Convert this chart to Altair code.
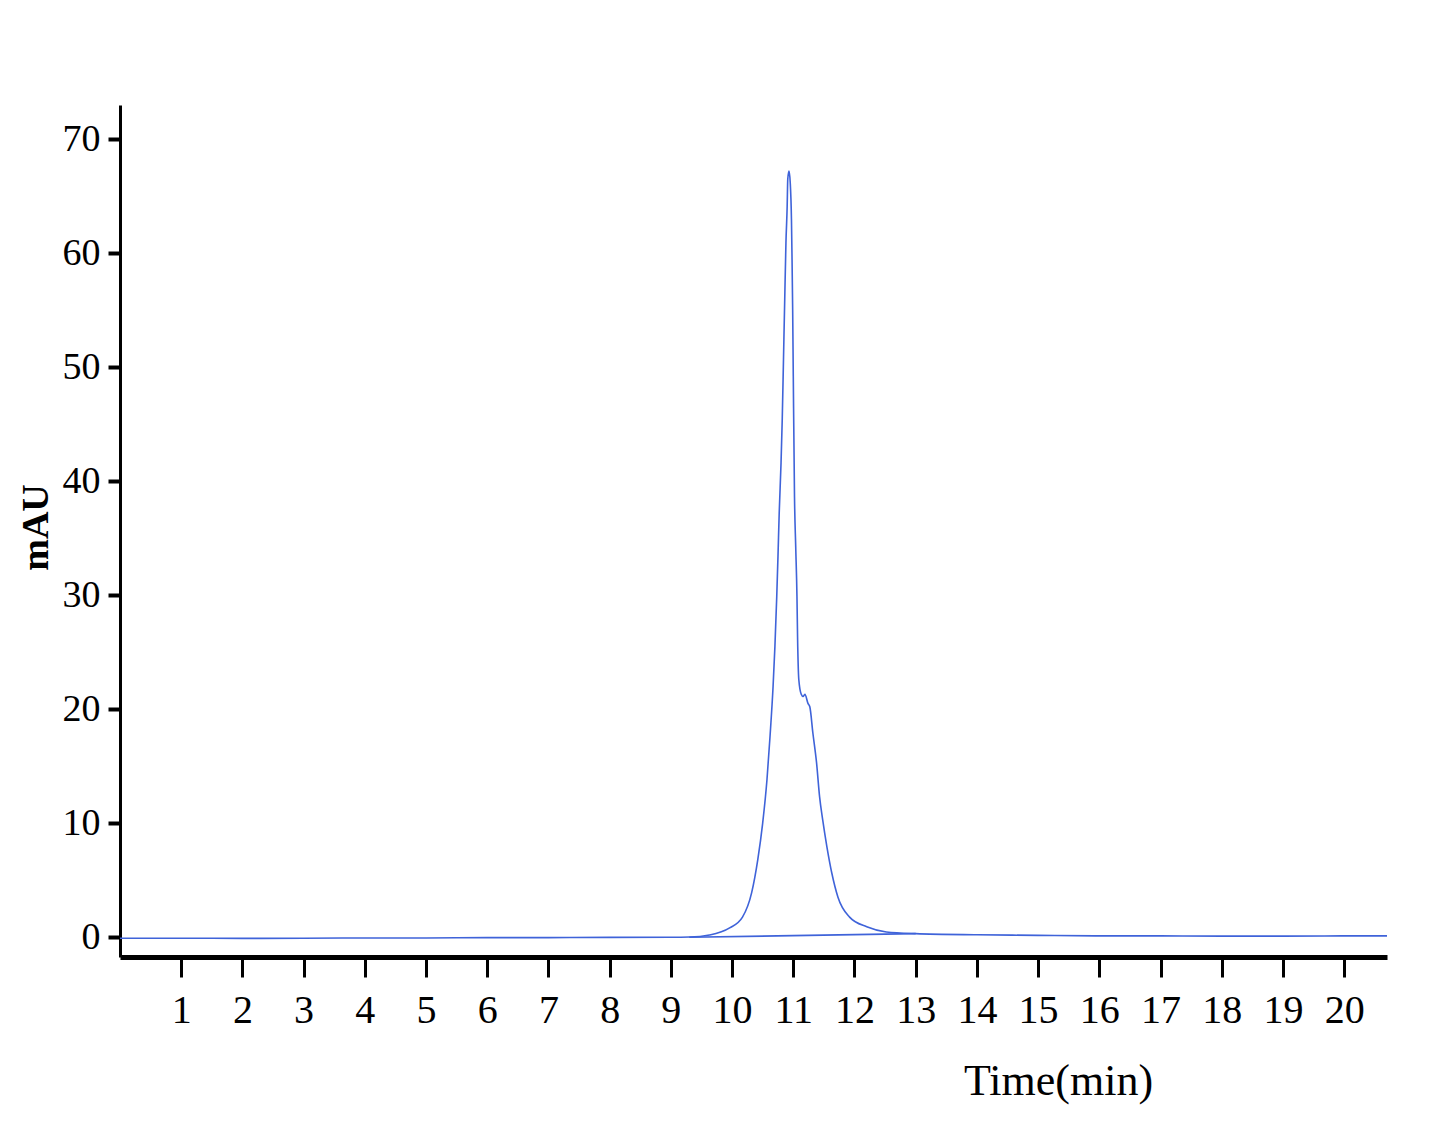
import altair as alt
import pandas as pd

# Chromatogram trace (time in min, absorbance in mAU)
time = [0.0, 1.0, 2.0, 3.0, 4.0, 5.0, 6.0, 7.0, 8.0, 9.0, 9.3, 9.63, 9.96, 10.17,
        10.32, 10.42, 10.50, 10.57, 10.62, 10.67, 10.70, 10.73, 10.75, 10.77,
        10.80, 10.82, 10.84, 10.86, 10.88, 10.90, 10.91, 10.93, 10.95, 10.97,
        10.98, 10.99, 11.00, 11.02, 11.04, 11.06, 11.07, 11.09, 11.13, 11.16,
        11.19, 11.24, 11.27, 11.32, 11.38, 11.43, 11.48, 11.55, 11.63, 11.73,
        11.92, 12.20, 12.52, 13.0, 14.0, 15.0, 16.0, 17.0, 18.0, 19.0, 20.0, 20.7]
signal = [-0.1, -0.1, -0.12, -0.1, -0.08, -0.08, -0.05, -0.05, -0.03, -0.02, 0.0,
          0.18, 0.8, 1.75, 3.9, 6.8, 10.0, 13.8, 17.6, 22.0, 25.5, 29.9, 33.4,
          37.2, 41.6, 45.5, 50.7, 55.9, 60.9, 64.1, 66.5, 67.2, 66.2, 63.0, 59.4,
          55.0, 49.2, 38.6, 34.2, 29.9, 26.3, 22.6, 21.3, 21.1, 21.3, 20.5, 20.2,
          17.9, 15.3, 12.3, 10.3, 7.9, 5.6, 3.5, 1.75, 0.9, 0.45, 0.3, 0.2, 0.15,
          0.1, 0.1, 0.08, 0.08, 0.1, 0.1]

# Integration baseline drawn under the peak
base_time = [9.3, 13.0]
base_value = [-0.02, 0.3]

x_ticks = list(range(1, 21))
y_ticks = [0, 10, 20, 30, 40, 50, 60, 70]

trace = pd.DataFrame({"t": time, "v": signal})
base = pd.DataFrame({"t": base_time, "v": base_value})

FONT = "Liberation Serif"
BLUE = "#3f63d9"

x_enc = alt.X("t:Q", scale=alt.Scale(domain=[0, 20.7], nice=False, zero=False),
              axis=alt.Axis(values=x_ticks, format="d", labelOverlap=False,
                            title="Time(min)", grid=False,
                            domainColor="black", domainWidth=5,
                            tickColor="black", tickSize=20, tickWidth=3,
                            labelFont=FONT, labelFontSize=40, labelColor="black",
                            labelPadding=13, labelBaseline="top",
                            titleFont=FONT, titleFontSize=44, titleFontWeight="normal",
                            titleColor="black", titleX=938, titleY=124,
                            titleBaseline="middle", titleAnchor="middle"))
y_enc = alt.Y("v:Q", scale=alt.Scale(domain=[-1.75, 73], nice=False, zero=False),
              axis=alt.Axis(values=y_ticks, format="d", labelOverlap=False,
                            title="mAU", grid=False,
                            domainColor="black", domainWidth=3,
                            tickColor="black", tickSize=12, tickWidth=4,
                            labelFont=FONT, labelFontSize=38, labelColor="black",
                            labelPadding=8,
                            titleFont=FONT, titleFontSize=38, titleFontWeight="bold",
                            titleColor="black", titleAngle=270, titleX=-84, titleY=422,
                            titleBaseline="middle", titleAnchor="middle"))

line = alt.Chart(trace).mark_line(color=BLUE, strokeWidth=1.6, interpolate="monotone").encode(
    x=x_enc, y=y_enc, order="t:Q")
bl = alt.Chart(base).mark_line(color=BLUE, strokeWidth=1.6).encode(
    x=alt.X("t:Q"), y=alt.Y("v:Q"))

chart = alt.layer(line, bl).properties(
    width=1267, height=852,
    autosize=alt.AutoSizeParams(type="none"),
    padding={"left": 112, "top": 97, "right": 30, "bottom": 150},
).configure(background="white").configure_view(strokeWidth=0, stroke=None)

chart.save("out.html", embed_options={"renderer": "svg", "actions": False})
